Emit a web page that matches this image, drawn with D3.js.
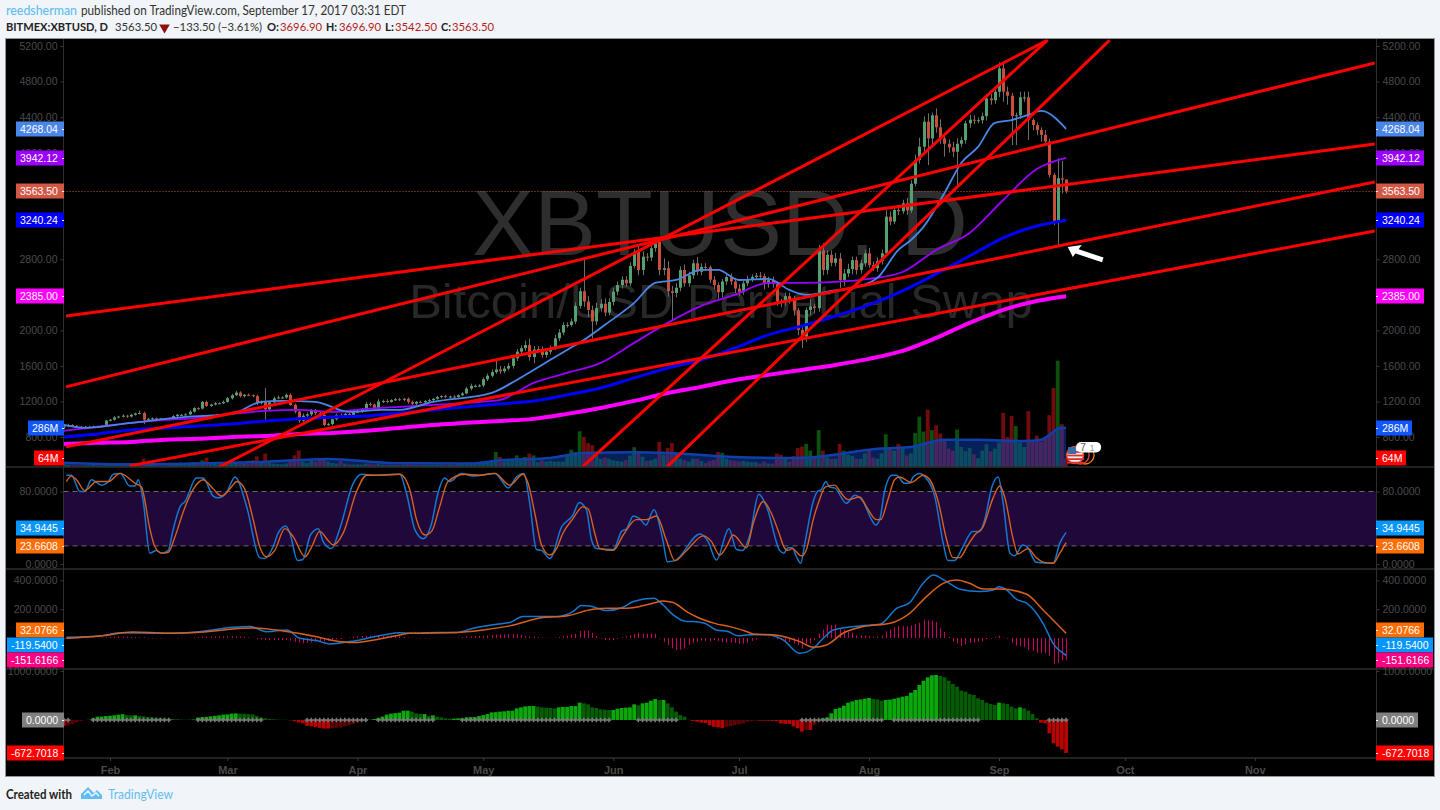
<!DOCTYPE html>
<html><head><meta charset="utf-8">
<script src="https://cdn.jsdelivr.net/npm/d3@7/dist/d3.min.js"></script>
<style>
html,body{margin:0;padding:0;background:#f1f4f8;overflow:hidden}
svg{display:block}
text{font-family:"Liberation Sans",Arial,sans-serif}
.hdr text{font-family:Lato,"Noto Sans",sans-serif}
</style></head><body>
<svg id="c" width="1440" height="810"></svg>
<script>
// ---------- DATA (one entry per day from 21 Jan 2017, index 0, to 17 Sep 2017, index 239) ----------
const firstDay = Date.UTC(2017,0,21);
const closes = [
920,935,925,915,905,915,915,920,920,925,985,
995,1020,1030,1040,1030,1050,1065,1070,995,1005,1010,1005,1000,1005,1010,1035,1050,1050,1055,1085,1125,1120,1195,1150,1165,1180,1180,1195,
1236,1270,1300,1260,1275,1270,1260,1180,1200,1110,1190,1235,1245,1245,1274,1161,1086,985,1040,1055,1100,1067,1049,936,945,1000,1049,1040,1060,1050,1085,
1085,1110,1172,1165,1120,1200,1205,1195,1215,1225,1220,1230,1195,1175,1195,1190,1205,1215,1230,1250,1260,1250,1255,1250,1270,1290,1345,1375,1375,1380,
1450,1490,1530,1560,1540,1570,1600,1686,1760,1800,1835,1700,1785,1790,1723,1760,1800,1910,1975,2060,2060,2100,2275,2440,2325,2230,2100,2250,2300,2200,2320,
2436,2510,2570,2530,2725,2886,2680,2830,2820,2925,2998,2680,2700,2440,2420,2480,2680,2530,2620,2755,2660,2715,2710,2570,2510,2430,2550,2600,2550,2470,
2430,2530,2575,2600,2615,2610,2520,2565,2520,2325,2320,2385,2350,2225,2005,1930,2230,2270,2250,2900,2680,2850,2760,2810,2567,2640,2690,2790,2680,2755,2867,
2735,2700,2780,2867,3280,3224,3355,3340,3430,3350,3650,3917,4067,4348,4160,4420,4285,4160,4100,4060,4010,4100,4140,4330,4370,4360,4365,4410,4610,4590,4685,
4948,4686,4640,4412,4420,4622,4622,4367,4310,4255,4200,4125,3750,3223,3711,3696.9,3563.5];
const wickUp = [
15,15,10,10,10,10,10,10,10,10,8,
10,15,10,15,10,10,10,30,15,10,10,10,10,10,10,10,10,10,10,15,10,10,10,15,10,15,10,15,
15,15,20,15,10,15,10,15,10,149,10,20,20,15,15,15,15,10,25,20,15,15,20,10,15,10,15,15,10,10,15,
20,15,25,20,10,25,15,20,10,15,15,10,15,15,10,15,10,15,10,15,10,15,10,15,10,15,20,25,15,15,
20,25,30,107,40,30,30,40,30,30,50,70,40,35,30,25,30,40,40,30,30,35,40,40,370,60,50,60,50,60,40,
40,40,40,40,40,30,60,60,40,50,30,30,110,80,60,50,40,60,40,40,70,40,40,20,40,30,30,40,40,40,
50,30,40,30,30,40,30,40,40,30,30,40,40,40,30,30,30,80,30,60,80,50,50,60,60,50,60,40,40,40,40,
60,40,40,40,75,60,40,50,40,60,40,60,100,60,94,30,78,90,60,50,60,60,40,30,60,50,30,40,50,50,40,
68,75,56,30,30,64,64,64,20,30,30,55,30,20,225,199,0];
const wickDown = [
30,10,10,10,10,10,10,10,10,10,10,
10,10,10,10,15,10,10,10,50,10,20,15,10,10,10,10,10,10,10,10,10,15,10,10,10,10,10,10,
10,15,10,15,15,10,15,20,15,125,15,10,10,15,15,10,20,25,15,15,20,20,20,15,10,15,15,15,15,15,10,
15,15,15,20,15,15,20,15,10,10,15,15,20,20,15,10,10,10,15,10,15,15,15,20,10,10,10,20,15,15,
20,20,20,20,30,20,20,30,30,30,30,40,70,30,30,30,30,20,30,30,30,20,30,30,60,80,190,40,40,40,30,
40,40,40,40,30,30,60,60,40,40,40,60,60,60,300,50,40,40,40,40,40,40,40,40,50,90,60,40,40,50,
40,30,30,30,30,40,60,40,40,50,60,40,50,60,60,130,60,60,60,40,60,50,40,40,90,70,40,60,50,40,40,
30,30,40,40,30,40,30,40,30,50,30,30,40,60,300,90,60,60,145,60,60,410,40,40,50,40,30,40,50,50,40,
60,113,100,326,326,40,50,225,60,60,77,20,30,40,263,155,21];
const volumes = [ // millions
25,15,12,12,12,12,12,14,12,10,25,
20,15,15,22,18,15,20,30,61,25,18,15,12,12,12,15,20,15,14,25,37,22,49,69,28,25,20,20,
25,37,37,25,22,25,49,78,30,98,32,25,22,20,25,44,86,122,40,30,54,40,54,54,40,30,25,45,25,20,18,
20,18,25,25,20,25,18,18,15,15,15,18,22,18,15,15,15,15,15,15,15,15,18,15,20,25,35,32,20,22,
30,42,42,110,74,40,45,50,85,50,74,98,85,35,50,40,45,40,40,40,80,127,110,262,220,175,160,90,60,70,60,
50,45,40,50,85,145,110,75,45,50,60,184,90,140,176,100,60,50,40,60,60,45,30,45,50,110,105,60,50,45,
40,45,40,35,35,25,40,25,25,98,90,60,40,80,140,150,170,120,80,270,120,70,60,60,170,120,90,80,60,60,100,
130,70,60,100,240,135,120,170,147,85,100,250,370,260,420,270,305,245,195,135,120,275,147,115,140,93,64,120,167,115,135,
180,397,220,375,300,180,147,410,195,230,185,205,380,580,780,315,64];
const volMaDays = [0,16,31,47,63,79,97,104,116,124,136,144,160,175,195,202,210,218,229,233,238,239];
const volMa     = [32,20,25,37,59,28,25,49,66,103,108,103,74,66,135,147,200,200,190,200,289,286];

const maDays = [0,8,16,24,32,40,48,56,64,72,80,88,96,104,112,120,128,136,144,152,160,168,176,184,192,200,208,216,224,232,239];
const ma200 = [722,734,745,768,779,801,812,835,846,869,902,936,959,981,1004,1060,1127,1206,1296,1364,1442,1499,1555,1611,1679,1769,1915,2084,2230,2331,2385];
const ma100 = [801,835,880,902,925,947,981,1004,1026,1037,1071,1105,1139,1172,1206,1274,1352,1465,1577,1667,1802,1949,2050,2162,2286,2444,2635,2837,3040,3175,3240.24];
const ma50  = [869,914,959,992,1015,1060,1094,1105,1082,1116,1139,1161,1184,1217,1409,1521,1634,1859,2084,2275,2399,2534,2534,2545,2579,2657,2905,3096,3467,3816,3942.12];
const ma20Days = [0,5,16,29,40,47,52,60,68,76,80,88,102,108,114,120,124,129,136,141,146,152,156,161,168,173,177,183,189,194,199,202,205,210,214,218,222,226,230,233,239];
const ma20 = [936,902,959,1026,1060,1195,1206,1195,1082,1105,1105,1195,1296,1442,1611,1780,1892,2061,2309,2534,2567,2680,2680,2567,2579,2455,2399,2444,2489,2590,2905,3017,3164,3546,3884,4064,4334,4367,4424,4469,4268.04];

// red hand-drawn trend lines: [day, price] at each end
const trendStartDay   = [0.5,0.5,0.5,15.7,34.8,123.7,143.8];
const trendStartPrice = [1364,2162,689,475,407,464,464];
const trendEndDay     = [312.6,312.6,312.6,312.6,234.6,234.6,249.4];
const trendEndPrice   = [5009,4097,3670,3119,5267,5267,5267];
const arrowTipDay = 239.4, arrowTipPrice = 2939;

const stochKDays = [0.6,1.8,3.8,5,6.6,9,10.6,11.8,13.5,15.7,17,17.7,18.9,20.5,22.1,23.3,24.9,26,27.8,28.9,31.6,33.2,35.6,36.8,38.8,40.8,43.6,46.7,47.9,49.9,51.1,52.9,53.9,55.7,57,58.8,60.7,61.8,63.8,65.8,69,71,73.8,80.1,81.7,83.7,85.7,87.7,89.2,90.8,92,94.8,97.6,102.8,106,107.9,109.7,111.1,112.7,113.9,115.9,118.7,121.4,122.9,124.6,125.8,127,131,133,134.2,135.8,137.3,138.8,140.7,142.9,143.9,145.7,151.7,153.6,155.6,158.6,160.4,161.8,163.6,165.7,167.6,170.7,171.7,172.7,173.7,174.7,175.7,176.7,178.7,179.7,180.6,181.7,182.6,183.8,186.6,188.6,190.6,192.6,193.6,194.6,195.7,197.5,198.5,200.5,201.7,202.5,204.1,205.4,207.7,209.7,210.8,212.4,214.4,216.7,218.4,219.6,221.3,222.8,224,225.6,226.7,228.7,229.9,231.8,235.9,237.5,239];
const stochK = [98,98,80,80,93,87,91,99,100,86,86,93,70,12,15,12,15,37,64,69,95,95,75,73,79,96,63,7,6,19,34,42,34,4,5,32,39,25,17,39,89,99,98,99,78,38,28,45,78,95,91,100,97,100,84,96,100,67,16,15,6,41,54,68,60,27,17,16,36,39,53,50,43,60,25,2.6,3.7,33,25,4.4,39,16,15,32,77,63,15,12,18,18,8,0.8,23,69,80,82,91,85,84,67,76,69,49,43,50,80,98,98,89,89,96,100,96,74,23,4,4,19,36,36,49,85,96,67,12,9,21,18,2,0.8,23,34.94];
const stochDDays = [0.6,1.8,3,5,7.8,10.6,13.4,17,18.5,20.5,21.7,23.3,24.9,26.5,28.5,30.8,33.2,35.6,37.6,39.6,41.3,43.2,45.2,46.7,48.3,50.3,52.7,54.7,57.5,59.1,61,63,64.2,66.6,69.8,72.2,75.4,80.1,82.5,84.1,86.1,87.7,89.6,91.6,95.6,99.2,102.8,106.3,109.5,110.7,112.3,113.9,115.9,117.5,119,121.4,123.7,125,126.6,127.8,131,133.4,136.5,138.8,141.3,143.7,145.7,148.5,152.5,154.4,156.4,158,159.6,162.8,164.4,166.8,168.7,170.7,171.7,172.7,173.7,175.9,177,178.7,180.2,181.6,183.8,185.4,187,189.8,191.4,193.8,194.8,196.5,198.1,199.3,202.1,204.9,206.5,208.5,210.5,212,213.6,215.6,217.2,219.2,221.6,223.2,224.4,226.4,227.5,229.9,231.9,233.5,235.9,237.5,239];
const stochD = [91,97,93,81,91,91,100,89,85,39,19,12,13,30,58,82,93,83,75,83,91,82,48,19,8,15,39,30,8,19,36,26,21,34,80,98,98,99,82,49,32,36,63,91,99,98,100,87,99,89,56,21,10,17,34,50,63,61,34,17,15,32,49,49,53,26,3.7,15,31,25,10,19,32,18,45,69,56,32,19,15,17,9,15,49,71,85,87,78,71,74,63,49,49,71,93,96,90,98,93,69,27,7,7,21,32,41,73,86,73,27,11,17,7,2,0.8,12,23.66];

const macdDays = [0.6,8.6,13.4,24.5,32.4,40.4,44.4,48.3,53.1,56.3,60.3,63.4,68.2,76.2,80.1,82.5,88.8,93.6,97.6,103.2,106.3,109.5,112.7,117.5,121.4,123.4,125.4,129.4,133.4,135.8,140.7,142.9,145.3,148.5,150,152.8,155.6,158.4,160.8,163.6,167.5,171.5,175.5,178.7,181.1,183.5,189.8,194.6,198.6,201.7,204.9,207.3,210.5,213.7,218.4,221.6,223,224.8,227.2,229.6,233.5,235.9,239];
const macdLine = [5,14,37,33,44,74,79,44,56,-2,-18,-41,-25,21,37,33,38,38,68,96,107,149,149,149,183,225,222,190,213,253,276,229,160,114,114,102,56,45,15,22,22,-13,-106,-71,-2,56,84,95,206,245,379,437,391,338,322,333,356,333,268,241,102,-37,-119.54];
const signalDays = [0.6,8.6,16.5,24.5,32.4,44.4,52.3,60.3,64.2,69,76.2,80.1,82.5,93.6,100,106.3,114.3,119.8,126.2,129.4,134.2,140.5,142.9,145.3,148.5,151.6,155.6,158.8,162.8,164.4,170,175.5,178.7,181.9,185.8,190.6,197,201.7,205.7,209.7,212.9,216,219.2,223.2,229.6,233.5,239];
const signalLine = [-2,14,42,33,40,70,49,9,-18,-32,-2,21,33,38,56,84,142,153,199,206,206,241,257,246,183,137,98,79,45,28,19,-25,-64,-48,33,79,102,171,287,379,402,379,340,340,303,194,32.08];
const macdHist = [
-5,-4,-3,-2,2,3,4,3,3,4, 6,7,8,9,10,9,7,6,5,4, -3,-4,-4,-3,-3,-2,-2,-3,-2,-1, 2,5,7,8,9,10,10,11,11,12,
12,11,10,8,5,2,-6,-10,-14,-16, -15,-14,-14,-15,-18,-26,-32,-36,-34,-30, -28,-26,-24,-20,-14,-10,-6,-2,3,8, 12,14,15,16,16,15,14,15,16,16,
12,8,4,2,-2,-3,-4,-3,-2,1, 2,3,2,2,3,8,10,12,14,16, 18,18,20,22,24,24,26,27,25,22, 14,10,8,6,4,2,-2,2,6,10,
16,22,28,48,50,52,36,15,-4,-14, -16,-14,-6,5,12,20,28,36,30,30, 32,30,-5,-28,-48,-72,-84,-82,-72,-48, -34,-28,-18,-20,-25,-14,-20,-28,-32,-32,
-35,-40,-38,-35,-20,-8,2,-2,3,-4, -8,-14,-22,-28,-38,-48,-74,-39,-39,-16, 30,58,92,92,95,65,58,42,35,18, 18,18,12,7,9,18,46,58,76,83,
81,81,88,95,106,127,122,120,111,72, 42,7,-28,-39,-55,-44,-35,-32,-28,-21, -9,-5,5,16,2,-5,-35,-53,-58,-62, -85,-90,-102,-102,-108,-120,-180,-173,-155,-151.6];
const squeezeMom = [
-120,-110,-80,-50,-20,-5,5,34,68,70, 80,88,95,110,120,100,95,95,80,75, 60,55,48,40,34,27,20,14,8,5, 5,10,50,60,65,75,85,95,110,115,
130,135,130,128,120,115,85,50,35,20, 15,8,5,3,-5,-25,-50,-70,-120,-130, -145,-160,-175,-175,-170,-160,-155,-130,-110,-80, -50,-30,-15,5,20,40,70,110,130,140,
150,190,190,170,135,122,122,80,95,68, 54,34,27,27,34,34,54,60,60,80, 100,122,155,160,170,177,190,190,238,258, 278,285,285,272,258,252,245,238,258,265,
265,285,285,354,340,320,258,245,218,211, 204,204,231,245,252,258,320,300,340,354, 394,428,408,408,340,258,170,100,68,5, -20,-35,-55,-62,-110,-140,-150,-165,-140,-125,
-105,-90,-70,-40,-25,-15,-15,-15,-15,-20, -25,-70,-80,-80,-130,-170,-238,-204,-204,-100, -40,35,55,136,224,250,292,354,380,408, 420,435,450,428,420,394,408,415,435,455,
476,490,558,612,714,802,870,911,918,898, 870,802,734,680,598,578,530,510,442,408, 354,326,306,354,340,326,272,238,258,238, 190,122,34,-54,-68,-272,-476,-544,-598,-672.7];
const squeezeStart = [0,7,32,58,75,95,137,176,198,235];
const squeezeEnd   = [1,25,47,72,88,130,146,195,218,239];

const priceTicks = [5200,4800,4400,4000,2800,2000,1600,1200,800];
const stochTicks = [80,0];
const macdTicks  = [400,200];
const momTicks   = [1000];
const monthNames = ["Feb","Mar","Apr","May","Jun","Jul","Aug","Sep","Oct","Nov"];
const monthTicks = [1,2,3,4,5,6,7,8,9,10].map(m=>new Date(Date.UTC(2017,m,1)));

const priceTags = [["4268.04",4268.04,"#4a86e8"],["3942.12",3942.12,"#9900ff"],["3563.50",3563.5,"#d25846"],["3240.24",3240.24,"#0000ff"],["2385.00",2385,"#ff00ff"]];
const volTags   = [["286M",286,"#1155ff"],["64M",64,"#ff0000"]];
const stochTags = [["34.9445",39.5,"#0496ff"],["23.6608",20,"#ff6d00"]];
const macdTags  = [["32.0766",55,"#ff6d00"],["-119.5400",-48,"#0496ff"],["-151.6166",-152,"#ff0080"]];
const momTags   = [["0.0000",0,"#808080"],["-672.7018",-672.7,"#ff0000"]];

// ---------- SCALES ----------
const L=63.5, R=1376.5, OUT_L=6, OUT_R=1434;
const P1=[39.5,467], P2=[467,569], P3=[569,669], P4=[669,758];
const dateOf = i => new Date(firstDay + i*864e5);
const x = d3.scaleUtc().domain([new Date(Date.UTC(2017,1,1)),new Date(Date.UTC(2017,8,1))]).range([110,999]);
const xi = i => x(dateOf(i));
const y  = d3.scaleLinear().domain([800,5200]).range([437,46]);
const yV = d3.scaleLinear().domain([0,286]).range([467,428]);
const yS = d3.scaleLinear().domain([0,80]).range([564,491.5]);
const yM = d3.scaleLinear().domain([0,400]).range([638,580.3]);
const yQ = d3.scaleLinear().domain([0,1000]).range([720,671]);

const svg = d3.select("#c");
const dim="#4a4a4a", sep="#2e2e2e";
const n = closes.length, opens = closes.map((c,i)=> i? closes[i-1] : c-5);

// ---------- FRAME ----------
svg.append("rect").attr("x",OUT_L).attr("y",39).attr("width",OUT_R-OUT_L).attr("height",737).attr("fill","#000");
svg.append("rect").attr("x",OUT_L-.5).attr("y",38.5).attr("width",OUT_R-OUT_L+1).attr("height",738).attr("fill","none").attr("stroke","#8f959b");

const defs=svg.append("defs");
[["c1",P1],["c2",P2],["c3",P3],["c4",P4]].forEach(([id,p])=>defs.append("clipPath").attr("id",id).append("rect").attr("x",L+.5).attr("y",p[0]).attr("width",R-L-1).attr("height",p[1]-p[0]));

// ---------- WATERMARK ----------
const g1=svg.append("g").attr("clip-path","url(#c1)");
g1.append("text").attr("x",720).attr("y",255).attr("text-anchor","middle").attr("font-size",93).attr("fill","#2e2e2e").text("XBTUSD, D");
g1.append("text").attr("x",721).attr("y",318).attr("text-anchor","middle").attr("font-size",49).attr("fill","#282828").text("Bitcoin/USD Perpetual Swap");

// ---------- VOLUME ----------
const idx=d3.range(n);
g1.append("g").selectAll("rect").data(idx).join("rect")
 .attr("x",i=>xi(i)-1.9).attr("width",3.8)
 .attr("y",i=>yV(volumes[i])).attr("height",i=>yV(0)-yV(volumes[i]))
 .attr("fill",i=>closes[i]>=opens[i]?"#0c500c":"#720c0c");
const smooth=d3.curveMonotoneX;
g1.append("path").attr("d",d3.area().curve(smooth).x((d,k)=>xi(volMaDays[k])).y0(yV(0)).y1(d=>yV(d))(volMa)).attr("fill","rgba(15,70,200,0.45)");
g1.append("path").attr("d",d3.line().curve(smooth).x((d,k)=>xi(volMaDays[k])).y(d=>yV(d))(volMa)).attr("fill","none").attr("stroke","#0f3fa8").attr("stroke-width",2.5);

// ---------- CANDLES ----------
const cG=g1.append("g");
cG.selectAll("line").data(idx).join("line")
 .attr("x1",i=>Math.round(xi(i))+.5).attr("x2",i=>Math.round(xi(i))+.5)
 .attr("y1",i=>y(Math.max(opens[i],closes[i])+wickUp[i]))
 .attr("y2",i=>y(Math.min(opens[i],closes[i])-wickDown[i]))
 .attr("stroke","#6e6e6e");
cG.selectAll("rect").data(idx).join("rect")
 .attr("x",i=>Math.round(xi(i))-1).attr("width",3)
 .attr("y",i=>y(Math.max(opens[i],closes[i])))
 .attr("height",i=>Math.max(1,Math.abs(y(opens[i])-y(closes[i]))))
 .attr("fill",i=>closes[i]>=opens[i]?"#53a070":"#c94f3a");

// ---------- MOVING AVERAGES ----------
const maLine=(days)=>d3.line().curve(smooth).x((d,k)=>xi(days[k])).y(d=>y(d));
g1.append("path").attr("d",maLine(maDays)(ma200)).attr("fill","none").attr("stroke","#ff00ff").attr("stroke-width",4);
g1.append("path").attr("d",maLine(maDays)(ma100)).attr("fill","none").attr("stroke","#0000ff").attr("stroke-width",3);
g1.append("path").attr("d",maLine(maDays)(ma50)).attr("fill","none").attr("stroke","#9900ff").attr("stroke-width",1.8);
g1.append("path").attr("d",maLine(ma20Days)(ma20)).attr("fill","none").attr("stroke","#4a86e8").attr("stroke-width",1.8);

// last price line
g1.append("line").attr("x1",L).attr("x2",R).attr("y1",Math.round(y(3563.5))+.5).attr("y2",Math.round(y(3563.5))+.5)
 .attr("stroke","#c0503c").attr("stroke-dasharray","1 2");

// ---------- TREND LINES ----------
g1.append("g").selectAll("line").data(d3.range(trendStartDay.length)).join("line")
 .attr("x1",k=>xi(trendStartDay[k])).attr("y1",k=>y(trendStartPrice[k]))
 .attr("x2",k=>xi(trendEndDay[k])).attr("y2",k=>y(trendEndPrice[k]))
 .attr("stroke","#ff0000").attr("stroke-width",3);

// arrow annotation
const ax=xi(arrowTipDay), ay=y(arrowTipPrice);
const arrow=g1.append("g").attr("transform",`translate(${ax},${ay})`);
arrow.append("path").attr("d","M0,0L14,-2L5,10Z").attr("fill","#fff");
arrow.append("line").attr("x1",8).attr("y1",4).attr("x2",35).attr("y2",13).attr("stroke","#fff").attr("stroke-width",5);

// event flags
const ev=g1.append("g");
ev.append("circle").attr("cx",xi(239)+19).attr("cy",455).attr("r",9).attr("fill","#000").attr("stroke","#ff7a00").attr("stroke-width",1.3);
ev.append("circle").attr("cx",xi(239)+14).attr("cy",455).attr("r",9).attr("fill","#000").attr("stroke","#e8433a").attr("stroke-width",1.3);
ev.append("circle").attr("cx",xi(239)+9).attr("cy",455).attr("r",8.5).attr("fill","#eee").attr("stroke","#e8433a").attr("stroke-width",1.5);
[0,1,2,3].forEach(k=>ev.append("rect").attr("x",xi(239)+1).attr("y",451+k*3.6).attr("width",17).attr("height",1.8).attr("fill","#d9342b"));
ev.append("rect").attr("x",xi(239)+2).attr("y",447).attr("width",8).attr("height",7).attr("fill","#3a6ea8");
ev.append("rect").attr("x",xi(239)+10).attr("y",442).attr("width",25).attr("height",10.5).attr("rx",5).attr("fill","#fff");
ev.append("text").attr("x",xi(239)+17).attr("y",451).attr("font-size",10).attr("text-anchor","middle").attr("fill","#555").text("7");
ev.append("text").attr("x",xi(239)+26).attr("y",451).attr("font-size",9).attr("text-anchor","middle").attr("fill","#999").text("1");

// ---------- STOCH ----------
const g2=svg.append("g").attr("clip-path","url(#c2)");
g2.append("rect").attr("x",L).attr("width",R-L).attr("y",yS(80)).attr("height",yS(20)-yS(80)).attr("fill","#21083a");
[80,20].forEach(v=>g2.append("line").attr("x1",L).attr("x2",R).attr("y1",yS(v)).attr("y2",yS(v)).attr("stroke","#6a6470").attr("stroke-dasharray","5 4"));
const sLine=(days)=>d3.line().curve(smooth).x((d,k)=>xi(days[k])).y(d=>yS(d));
g2.append("path").attr("d",sLine(stochKDays)(stochK)).attr("fill","none").attr("stroke","#1478d0").attr("stroke-width",1.5);
g2.append("path").attr("d",sLine(stochDDays)(stochD)).attr("fill","none").attr("stroke","#d8601f").attr("stroke-width",1.4);

// ---------- MACD ----------
const g3=svg.append("g").attr("clip-path","url(#c3)");
g3.selectAll("line").data(idx).join("line")
 .attr("x1",i=>Math.round(xi(i))+.5).attr("x2",i=>Math.round(xi(i))+.5)
 .attr("y1",yM(0)).attr("y2",i=>yM(macdHist[i])).attr("stroke","#cc0066");
const mLine=(days)=>d3.line().curve(smooth).x((d,k)=>xi(days[k])).y(d=>yM(d));
g3.append("path").attr("d",mLine(macdDays)(macdLine)).attr("fill","none").attr("stroke","#1478d0").attr("stroke-width",1.5);
g3.append("path").attr("d",mLine(signalDays)(signalLine)).attr("fill","none").attr("stroke","#d8601f").attr("stroke-width",1.5);

// ---------- SQUEEZE MOMENTUM ----------
const g4=svg.append("g").attr("clip-path","url(#c4)");
const qCol=i=>{const v=squeezeMom[i],p=i?squeezeMom[i-1]:v; return v>=0?(v>=p?"#0aa80a":"#055c05"):(v<=p?"#b50505":"#5a0505");};
g4.selectAll("rect").data(idx).join("rect")
 .attr("x",i=>xi(i)-1.9).attr("width",3.8)
 .attr("y",i=>Math.min(yQ(0),yQ(squeezeMom[i])))
 .attr("height",i=>Math.abs(yQ(0)-yQ(squeezeMom[i])))
 .attr("fill",qCol);
const crosses=[];squeezeStart.forEach((s,k)=>{for(let i=s;i<=squeezeEnd[k];i++)crosses.push(i);});
g4.append("g").selectAll("path").data(crosses).join("path")
 .attr("transform",i=>`translate(${xi(i)},${yQ(0)})`)
 .attr("d",d3.symbol().type(d3.symbolCross).size(12))
 .attr("fill","#7c7c7c");

// ---------- SEPARATORS AND AXES ----------
[467,569,669].forEach(v=>svg.append("line").attr("x1",OUT_L).attr("x2",OUT_R).attr("y1",v).attr("y2",v).attr("stroke",sep).attr("stroke-width",1.6));
svg.append("line").attr("x1",L).attr("x2",R).attr("y1",758).attr("y2",758).attr("stroke",sep).attr("stroke-width",1.6);
[L,R].forEach(v=>svg.append("line").attr("x1",v).attr("x2",v).attr("y1",39).attr("y2",758).attr("stroke",sep));

function axes(scale,ticks,fmt){
  const G=svg.append("g");
  [[d3.axisLeft,L],[d3.axisRight,R]].forEach(([A,px])=>{
    const g=G.append("g").attr("transform",`translate(${px},0)`)
      .call(A(scale).tickValues(ticks).tickFormat(fmt).tickSize(3).tickPadding(3));
    g.select(".domain").remove();
    g.selectAll("line").attr("stroke","#3a3a3a");
    g.selectAll("text").attr("fill",dim).attr("font-size",10.5).attr("font-family",'"Liberation Sans",Arial,sans-serif');
  });
}
axes(y,priceTicks,d3.format(".2f"));
axes(yS,stochTicks,d3.format(".4f"));
axes(yM,macdTicks,d3.format(".4f"));
axes(yQ,momTicks,d3.format(".4f"));

const xAx=svg.append("g").attr("transform","translate(0,758)").call(d3.axisBottom(x).tickValues(monthTicks).tickFormat((d,k)=>monthNames[k]).tickSize(3).tickPadding(5));
xAx.select(".domain").remove();
xAx.selectAll("line").attr("stroke","#3a3a3a");
xAx.selectAll("text").attr("fill",dim).attr("font-size",11).attr("font-weight","bold").attr("font-family",'"Liberation Sans",Arial,sans-serif');

// ---------- VALUE TAGS ----------
function tags(list,scale){
  list.forEach(([txt,v,col])=>{
    const cy=Math.round(scale(v));
    [0,1].forEach(side=>{
      const g=svg.append("g");
      const t=g.append("text").attr("y",cy+3.7).attr("font-size",10.5).attr("fill","#fff").text(txt);
      const w=t.node().getComputedTextLength();
      const boxW=Math.round(w+10);
      const bx=side?R-.5:L+.5-boxW;
      g.insert("rect","text").attr("x",bx).attr("y",cy-7.5).attr("width",boxW).attr("height",15).attr("fill",col);
      t.attr("x",side?bx+6:bx+4);
      g.append("line").attr("x1",side?bx:bx+boxW-2).attr("x2",side?bx+2:bx+boxW).attr("y1",cy+.5).attr("y2",cy+.5).attr("stroke","#fff");
    });
  });
}
tags(priceTags,y); tags(volTags,yV); tags(stochTags,yS); tags(macdTags,yM); tags(momTags,yQ);

// ---------- HEADER / FOOTER ----------
const hdr=svg.append("g").attr("class","hdr");
const put=(px,py,txt,col,w,fs,tl)=>{const t=hdr.append("text").attr("x",px).attr("y",py).attr("fill",col).attr("font-size",fs||12).attr("font-weight",w||400).text(txt);
  if(tl)t.attr("textLength",tl).attr("lengthAdjust","spacingAndGlyphs");return t;};
put(6,15,"reedsherman","#62bdf5",500,12.5,71);
put(81,15,"published on TradingView.com, September 17, 2017 03:31 EDT","#333",400,12.5,325);
put(6,31,"BITMEX:XBTUSD, D","#222",700,12,102);
put(115,31,"3563.50","#333",400,12,42);
hdr.append("path").attr("d",d3.symbol().type(d3.symbolTriangle).size(48)).attr("transform","translate(164.5,27.5) rotate(180)").attr("fill","#8f0f0f");
put(173,31,"\u2212133.50 (\u22123.61%)","#333",400,12,89);
put(267,31,"O:","#222",700,12,12);
put(280,31,"3696.90","#b71c1c",400,12,42);
put(326,31,"H:","#222",700,12,11);
put(339,31,"3696.90","#b71c1c",400,12,42);
put(385,31,"L:","#222",700,12,9);
put(395,31,"3542.50","#b71c1c",400,12,42);
put(441,31,"C:","#222",700,12,10);
put(452,31,"3563.50","#b71c1c",400,12,42);
put(6,799,"Created with","#222",700,13,66);
put(108,799,"TradingView","#62bdf5",400,13.5,65);
const logo=hdr.append("g").attr("transform","translate(81,787)");
logo.append("path").attr("d","M0,7L7,0L13,6L16,3L21,8L21,12L0,12Z").attr("fill","#62bdf5");
logo.append("path").attr("d","M3,8L7,4L11,9L15,6L18,9").attr("fill","none").attr("stroke","#f1f4f8").attr("stroke-width",1.4);
</script>
</body></html>
